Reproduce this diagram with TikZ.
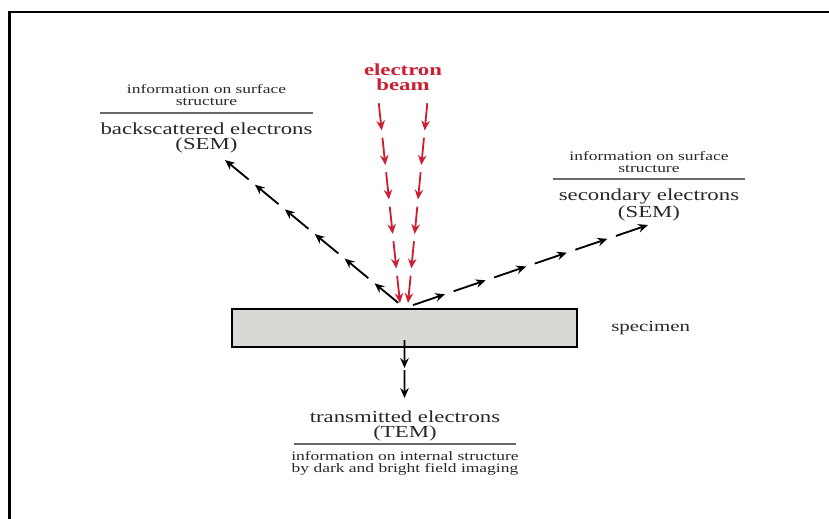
\documentclass[tikz,border=0pt]{standalone}
\usepackage{fontspec}
\setmainfont{Liberation Serif}[FakeStretch=1.35]
\usepackage{xcolor}
\definecolor{beamred}{RGB}{204, 31, 51}
\definecolor{specgray}{RGB}{216, 216, 212}
\definecolor{textgray}{RGB}{40, 40, 40}
\definecolor{rulegray}{RGB}{105, 105, 105}
\usepackage{tikz}
\usetikzlibrary{
    arrows.meta,
    calc,
    positioning
}
\tikzstyle{arrow} = [
    line width=1.3pt,
    -{Stealth[length=7pt, width=6pt]}
]

% a row of short arrows from #2 to #3, #4 pieces
\newcommand{\arrowtrain}[4]{%
  \foreach \k in {1,...,#4} {
    \draw[#1] ($(#2)!{(\k-1)/#4+0.035}!(#3)$) -- ($(#2)!{\k/#4}!(#3)$);
  }%
}

\begin{document}
\begin{tikzpicture}[
  x=0.025cm, y=-0.025cm,
  lbl/.style={font=\fontsize{12}{10.5}\selectfont, text=textgray, align=center, inner sep=0pt},
  info/.style={font=\fontsize{9.2}{8.5}\selectfont, text=textgray, align=center, inner sep=0pt},
  beamtext/.style={font=\bfseries\fontsize{12}{10.7}\selectfont, text=beamred, align=center, inner sep=0pt},
  rule/.style={draw=rulegray, line width=1pt},
  beamarrow/.style={arrow, draw=beamred, fill=beamred},
  sample/.style={draw, line width=1.4pt, fill=specgray, minimum width=8.6cm, minimum height=0.95cm}
]

\useasboundingbox (0,0) rectangle (829,519);
\draw[line width=1.8pt] (9.5,530) -- (9.5,12) -- (840,12);

\node (specimen) [sample] at (404.5,328) {};
\node (speclabel) [lbl, font=\fontsize{11}{10.5}\selectfont, anchor=base west] at (611,331) {specimen};

\coordinate (hit)  at (specimen.north);
\coordinate (exit) at ($(specimen.south)+(0,-10)$);

% incoming beam
\node (beamlabel) [beamtext, anchor=north] at (403,63.5) {electron\\beam};
\coordinate (beamLtop) at (378,96);
\coordinate (beamLend) at (400,303);
\coordinate (beamRtop) at (428,96);
\coordinate (beamRend) at (408,303);
\arrowtrain{beamarrow}{beamLtop}{beamLend}{6}
\arrowtrain{beamarrow}{beamRtop}{beamRend}{6}

% backscattered electrons
\draw[rule] (100,113) -- coordinate (bsrule) (313,113);
\node (bsinfo)  [info, above=5pt of bsrule] {information on surface\\structure};
\node (bslabel) [lbl, below=6.7pt of bsrule] {backscattered electrons\\(SEM)};
\coordinate (bsend) at (225,160);
\arrowtrain{arrow}{hit}{bsend}{6}

% secondary electrons
\draw[rule] (553,179) -- coordinate (serule) (745,179);
\node (seinfo)  [info, above=4.3pt of serule] {information on surface\\structure};
\node (selabel) [lbl, below=6.7pt of serule] {secondary electrons\\(SEM)};
\coordinate (seend) at (648,225);
\arrowtrain{arrow}{hit}{seend}{6}

% transmitted electrons
\draw[rule] (294,444) -- coordinate (terule) (516,444);
\node (telabel) [lbl, above=2pt of terule] {transmitted electrons\\(TEM)};
\node (teinfo)  [info, below=5.4pt of terule] {information on internal structure\\by dark and bright field imaging};
\coordinate (teend) at (404.5,398);
\arrowtrain{arrow}{exit}{teend}{2}

\end{tikzpicture}
\end{document}
